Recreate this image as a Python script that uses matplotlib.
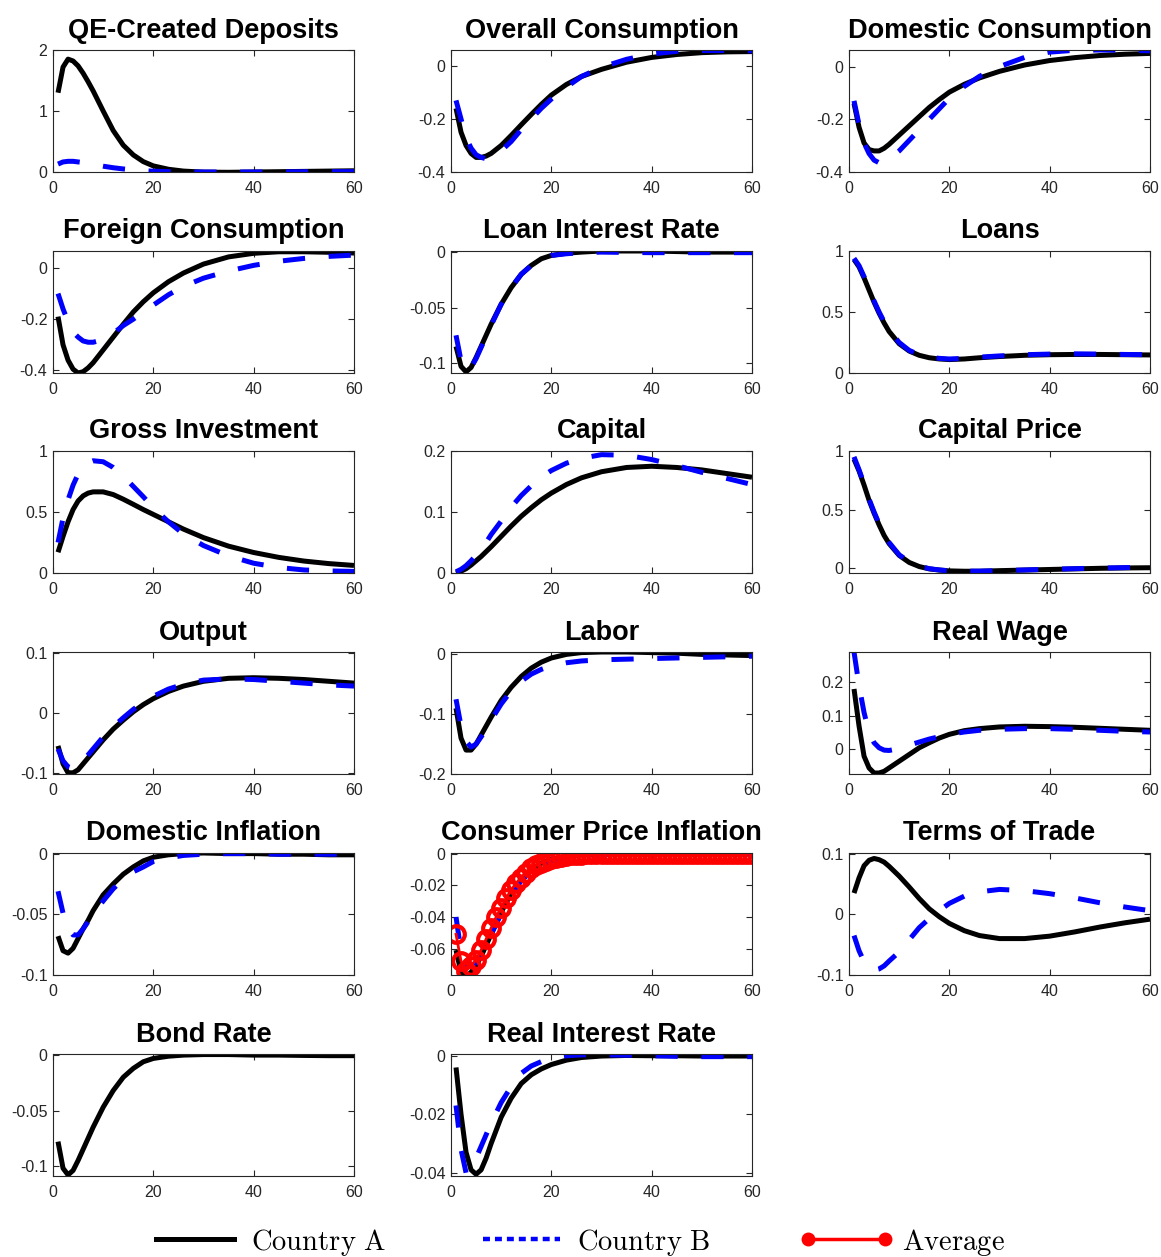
import matplotlib
matplotlib.use('Agg')
import matplotlib.pyplot as plt
from matplotlib.lines import Line2D
from matplotlib.ticker import FuncFormatter

plt.rcParams['font.family'] = ['Liberation Sans', 'DejaVu Sans']
plt.rcParams['axes.unicode_minus'] = False
plt.rcParams['mathtext.fontset'] = 'cm'
plt.rcParams['lines.scale_dashes'] = False

# ---------------- data ----------------
T = [1, 2, 3, 4, 5, 6, 7, 8, 10, 12, 14, 16, 18, 20, 23, 26, 30, 35, 40, 45, 50, 55, 60]
T_FULL = list(range(1, 61))

titles = ["QE-Created Deposits", "Overall Consumption", "Domestic Consumption",
          "Foreign Consumption", "Loan Interest Rate", "Loans",
          "Gross Investment", "Capital", "Capital Price",
          "Output", "Labor", "Real Wage",
          "Domestic Inflation", "Consumer Price Inflation", "Terms of Trade",
          "Bond Rate", "Real Interest Rate"]

qe_a = [1.30, 1.72, 1.85, 1.82, 1.74, 1.62, 1.48, 1.33, 1.0, 0.68, 0.44, 0.28, 0.17, 0.10, 0.045, 0.015, -0.002, -0.005, 0.0, 0.005, 0.01, 0.015, 0.02]
qe_b = [0.13, 0.165, 0.175, 0.175, 0.165, 0.155, 0.14, 0.125, 0.095, 0.07, 0.05, 0.035, 0.022, 0.013, 0.006, 0.002, 0.0, 0.0, 0.0, 0.002, 0.004, 0.005, 0.006]

oc_a = [-0.16, -0.25, -0.30, -0.33, -0.345, -0.345, -0.34, -0.33, -0.30, -0.262, -0.222, -0.183, -0.145, -0.11, -0.07, -0.04, -0.013, 0.014, 0.032, 0.043, 0.05, 0.053, 0.054]
oc_b = [-0.13, -0.20, -0.27, -0.31, -0.335, -0.345, -0.35, -0.345, -0.32, -0.285, -0.24, -0.20, -0.16, -0.125, -0.08, -0.04, -0.005, 0.025, 0.045, 0.055, 0.058, 0.058, 0.057]

dc_a = [-0.14, -0.23, -0.29, -0.315, -0.32, -0.32, -0.31, -0.295, -0.26, -0.225, -0.19, -0.155, -0.125, -0.097, -0.067, -0.043, -0.018, 0.006, 0.023, 0.034, 0.042, 0.047, 0.05]
dc_b = [-0.13, -0.22, -0.29, -0.33, -0.355, -0.365, -0.36, -0.35, -0.32, -0.28, -0.24, -0.20, -0.16, -0.12, -0.075, -0.037, 0.0, 0.035, 0.055, 0.062, 0.063, 0.062, 0.06]

fc_a = [-0.19, -0.30, -0.36, -0.395, -0.41, -0.405, -0.39, -0.37, -0.32, -0.27, -0.22, -0.172, -0.132, -0.097, -0.054, -0.02, 0.015, 0.043, 0.057, 0.063, 0.063, 0.061, 0.058]
fc_b = [-0.10, -0.16, -0.21, -0.25, -0.27, -0.285, -0.29, -0.29, -0.28, -0.255, -0.225, -0.20, -0.172, -0.145, -0.105, -0.072, -0.04, -0.012, 0.01, 0.026, 0.037, 0.045, 0.05]

lir_a = [-0.085, -0.103, -0.108, -0.104, -0.095, -0.085, -0.075, -0.065, -0.047, -0.032, -0.02, -0.012, -0.006, -0.003, -0.001, 0.0, 0.001, 0.001, 0.001, 0.0005, 0.0, 0.0, 0.0]
lir_b = [-0.075, -0.098, -0.106, -0.104, -0.096, -0.086, -0.076, -0.066, -0.047, -0.032, -0.02, -0.012, -0.006, -0.003, -0.0015, -0.0005, 0.0, -0.0003, -0.0005, -0.0005, -0.0005, -0.0005, -0.0005]

loan_a = [0.93, 0.87, 0.78, 0.68, 0.58, 0.49, 0.41, 0.34, 0.24, 0.18, 0.145, 0.125, 0.115, 0.11, 0.115, 0.125, 0.135, 0.145, 0.15, 0.152, 0.152, 0.15, 0.148]
loan_b = [0.94, 0.88, 0.79, 0.69, 0.59, 0.50, 0.42, 0.35, 0.25, 0.185, 0.15, 0.13, 0.12, 0.115, 0.12, 0.13, 0.14, 0.15, 0.155, 0.157, 0.155, 0.152, 0.15]

gi_a = [0.17, 0.30, 0.42, 0.52, 0.59, 0.632, 0.655, 0.665, 0.665, 0.643, 0.605, 0.563, 0.52, 0.48, 0.42, 0.36, 0.29, 0.22, 0.168, 0.128, 0.098, 0.077, 0.062]
gi_b = [0.25, 0.45, 0.60, 0.72, 0.81, 0.87, 0.905, 0.92, 0.912, 0.865, 0.795, 0.71, 0.625, 0.535, 0.42, 0.32, 0.225, 0.14, 0.08, 0.045, 0.025, 0.017, 0.013]

cap_a = [0.0, 0.003, 0.007, 0.013, 0.02, 0.027, 0.035, 0.043, 0.06, 0.077, 0.093, 0.107, 0.12, 0.131, 0.145, 0.156, 0.166, 0.173, 0.175, 0.173, 0.169, 0.163, 0.157]
cap_b = [0.002, 0.006, 0.012, 0.02, 0.029, 0.039, 0.05, 0.063, 0.085, 0.108, 0.127, 0.143, 0.157, 0.168, 0.18, 0.188, 0.194, 0.193, 0.186, 0.176, 0.165, 0.155, 0.145]

cp_a = [0.93, 0.83, 0.71, 0.58, 0.47, 0.37, 0.28, 0.21, 0.11, 0.05, 0.015, -0.005, -0.015, -0.022, -0.025, -0.025, -0.02, -0.015, -0.01, -0.005, 0.0, 0.003, 0.005]
cp_b = [0.95, 0.84, 0.72, 0.59, 0.48, 0.38, 0.29, 0.22, 0.115, 0.055, 0.018, -0.003, -0.014, -0.021, -0.024, -0.024, -0.02, -0.014, -0.008, -0.003, 0.002, 0.006, 0.009]

out_a = [-0.055, -0.085, -0.10, -0.10, -0.095, -0.085, -0.075, -0.065, -0.045, -0.027, -0.012, 0.002, 0.014, 0.024, 0.036, 0.045, 0.053, 0.058, 0.059, 0.058, 0.056, 0.053, 0.05]
out_b = [-0.06, -0.08, -0.09, -0.093, -0.088, -0.08, -0.07, -0.06, -0.04, -0.023, -0.008, 0.006, 0.018, 0.028, 0.04, 0.048, 0.055, 0.057, 0.056, 0.053, 0.05, 0.047, 0.045]

lab_a = [-0.09, -0.14, -0.16, -0.16, -0.15, -0.135, -0.12, -0.105, -0.077, -0.055, -0.037, -0.023, -0.013, -0.006, 0.0, 0.003, 0.004, 0.004, 0.003, 0.002, 0.0, -0.001, -0.002]
lab_b = [-0.075, -0.12, -0.145, -0.155, -0.15, -0.138, -0.125, -0.11, -0.083, -0.061, -0.045, -0.033, -0.025, -0.019, -0.014, -0.011, -0.009, -0.008, -0.007, -0.006, -0.005, -0.004, -0.003]

rw_a = [0.18, 0.07, -0.02, -0.055, -0.07, -0.07, -0.065, -0.055, -0.035, -0.015, 0.005, 0.02, 0.034, 0.045, 0.056, 0.062, 0.067, 0.069, 0.068, 0.066, 0.063, 0.06, 0.057]
rw_b = [0.29, 0.19, 0.11, 0.05, 0.02, 0.005, -0.002, -0.003, 0.003, 0.013, 0.022, 0.031, 0.038, 0.045, 0.052, 0.057, 0.06, 0.062, 0.062, 0.06, 0.057, 0.054, 0.052]

di_a = [-0.068, -0.08, -0.082, -0.078, -0.07, -0.062, -0.055, -0.047, -0.034, -0.025, -0.017, -0.011, -0.006, -0.003, -0.001, 0.0, 0.0005, 0.0, 0.0, -0.0005, -0.0005, -0.001, -0.001]
di_b = [-0.031, -0.049, -0.062, -0.067, -0.067, -0.062, -0.056, -0.05, -0.039, -0.029, -0.021, -0.015, -0.011, -0.0065, -0.0035, -0.0015, -0.0005, 0.0, 0.0, -0.0005, -0.0005, -0.0005, -0.0005]

cpi_a = [-0.061, -0.075, -0.078, -0.075, -0.071, -0.065, -0.058, -0.051, -0.037, -0.025, -0.016, -0.01, -0.006, -0.0035, -0.0015, -0.0005, 0.0, 0.0, 0.0, 0.0, 0.0, 0.0, 0.0]
cpi_b = [-0.040, -0.062, -0.070, -0.071, -0.069, -0.064, -0.058, -0.051, -0.038, -0.026, -0.017, -0.011, -0.007, -0.0045, -0.002, -0.0008, -0.0002, 0.0, 0.0, 0.0, 0.0, 0.0, 0.0]
cpi_avg = [-0.051, -0.068, -0.074, -0.071, -0.067, -0.061, -0.054, -0.047, -0.040, -0.034,
           -0.028, -0.0228, -0.0185, -0.015, -0.0118, -0.0092, -0.0071, -0.0055, -0.0042, -0.0032,
           -0.0024, -0.0018, -0.0013, -0.0009, -0.0006, -0.0004, -0.0003, -0.0002, -0.0001, 0.0,
           0.0, 0.0, 0.0, 0.0, 0.0, 0.0, 0.0, 0.0, 0.0, 0.0,
           0.0, 0.0, 0.0, 0.0, 0.0, 0.0, 0.0, 0.0, 0.0, 0.0,
           0.0, 0.0, 0.0, 0.0, 0.0, 0.0, 0.0, 0.0, 0.0, 0.0]

tot_a = [0.035, 0.06, 0.08, 0.089, 0.092, 0.09, 0.086, 0.079, 0.063, 0.045, 0.026, 0.009, -0.004, -0.015, -0.027, -0.035, -0.04, -0.04, -0.036, -0.029, -0.021, -0.014, -0.008]
tot_b = [-0.035, -0.06, -0.078, -0.088, -0.092, -0.09, -0.085, -0.077, -0.062, -0.042, -0.022, -0.007, 0.006, 0.018, 0.03, 0.037, 0.041, 0.039, 0.034, 0.027, 0.019, 0.012, 0.006]

br_a = [-0.078, -0.102, -0.108, -0.104, -0.095, -0.085, -0.075, -0.065, -0.047, -0.032, -0.02, -0.012, -0.006, -0.003, -0.001, 0.0, 0.0005, 0.0005, 0.0, 0.0, -0.0003, -0.0005, -0.0005]

rir_a = [-0.004, -0.02, -0.033, -0.039, -0.0405, -0.039, -0.035, -0.030, -0.021, -0.0145, -0.0095, -0.0065, -0.0045, -0.003, -0.0015, -0.0006, -0.0001, 0.0001, 0.0, 0.0, -0.0001, -0.0001, -0.0001]
rir_b = [-0.017, -0.032, -0.040, -0.038, -0.035, -0.031, -0.027, -0.023, -0.016, -0.0105, -0.006, -0.0035, -0.002, -0.0008, 0.0, 0.0003, 0.0003, 0.0002, 0.0, -0.0002, -0.0003, -0.0003, -0.0003]

series_a = [qe_a, oc_a, dc_a, fc_a, lir_a, loan_a, gi_a, cap_a, cp_a,
            out_a, lab_a, rw_a, di_a, cpi_a, tot_a, br_a, rir_a]
series_b = [qe_b, oc_b, dc_b, fc_b, lir_b, loan_b, gi_b, cap_b, cp_b,
            out_b, lab_b, rw_b, di_b, cpi_b, tot_b, None, rir_b]

yticks = [[0, 1, 2], [-0.4, -0.2, 0], [-0.4, -0.2, 0], [-0.4, -0.2, 0],
          [-0.1, -0.05, 0], [0, 0.5, 1], [0, 0.5, 1], [0, 0.1, 0.2], [0, 0.5, 1],
          [-0.1, 0, 0.1], [-0.2, -0.1, 0], [0, 0.1, 0.2], [-0.1, -0.05, 0],
          [-0.06, -0.04, -0.02, 0], [-0.1, 0, 0.1], [-0.1, -0.05, 0], [-0.04, -0.02, 0]]
xticks = [0, 20, 40, 60]

ylims = [(0, 2), (-0.4, 0.06), (-0.4, 0.063), (-0.41, 0.066), (-0.109, 0.001),
         (0, 1), (0, 1), (0, 0.2), (-0.04, 1), (-0.102, 0.102), (-0.2, 0.004),
         (-0.073, 0.29), (-0.1, 0.0005), (-0.0768, 0.0006), (-0.1, 0.101),
         (-0.109, 0.001), (-0.0411, 0.0006)]

legend_labels = [r'$\mathrm{Country\ A}$', r'$\mathrm{Country\ B}$', r'$\mathrm{Average}$']

# ---------------- figure ----------------
W, H = 1161, 1257
fig = plt.figure(figsize=(W / 100, H / 100), dpi=100)
col_left = [53, 451, 849]
row_top = [50, 251, 451, 652, 853, 1054]
aw, ah = 301, 122
ink = '#262626'
fmt = FuncFormatter(lambda v, p: f'{v:g}')

for i, title in enumerate(titles):
    r, c = divmod(i, 3)
    ax = fig.add_axes([col_left[c] / W, 1 - (row_top[r] + ah) / H, aw / W, ah / H])
    ax.plot(T, series_a[i], color='black', lw=3.6, solid_capstyle='butt', solid_joinstyle='round')
    if series_b[i] is not None:
        ax.plot(T, series_b[i], color=(0, 0, 1), lw=3.6, dashes=(16, 17),
                dash_capstyle='butt')
    if i == 13:
        ax.plot(T_FULL, cpi_avg, color=(1, 0, 0), lw=2, marker='o', mfc='none',
                mec=(1, 0, 0), ms=12, mew=3)
    ax.set_xlim(0, 60)
    ax.set_ylim(*ylims[i])
    ax.set_xticks(xticks)
    ax.set_yticks(yticks[i])
    ax.xaxis.set_major_formatter(fmt)
    ax.yaxis.set_major_formatter(fmt)
    ax.tick_params(direction='in', length=4, width=0.8, top=True, right=True,
                   labelsize=11.5, colors=ink, pad=4)
    ax.tick_params(axis='x', pad=6.5)
    for sp in ax.spines.values():
        sp.set_color(ink)
        sp.set_linewidth(0.8)
    ax.set_title(title, fontsize=19.5, fontweight='bold', pad=9)

handles = [Line2D([], [], color='black', lw=3.6),
           Line2D([], [], color=(0, 0, 1), lw=3.2, dashes=(5, 3.6)),
           Line2D([], [], color=(1, 0, 0), lw=2.5, marker='o', mfc=(1, 0, 0), mec=(1, 0, 0), ms=9)]
fig.legend(handles, legend_labels, loc='center', bbox_to_anchor=(0.4965, 1 - 1242 / H),
           ncol=3, frameon=False, fontsize=20.6, handlelength=3.3, handletextpad=0.3,
           columnspacing=3.1, numpoints=2, borderpad=0)

fig.savefig('out.png', dpi=100)
